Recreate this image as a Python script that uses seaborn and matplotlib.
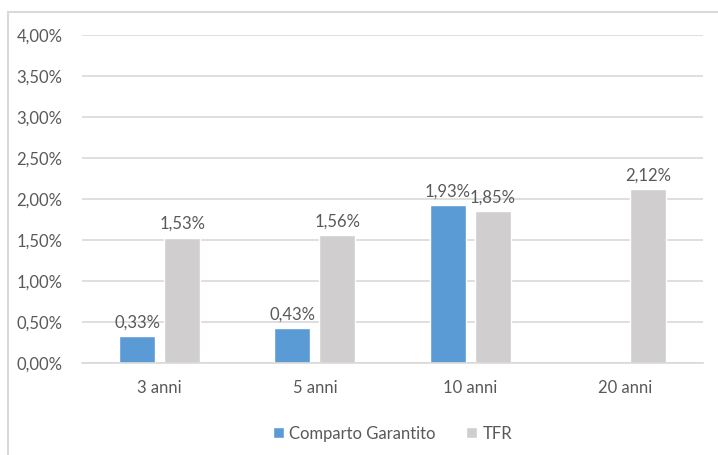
import numpy as np
import pandas as pd
import matplotlib
matplotlib.use("Agg")
import matplotlib.pyplot as plt
from matplotlib.patches import Rectangle
from matplotlib.ticker import FuncFormatter
import seaborn as sns

# Data (values in %)
categories = ["3 anni", "5 anni", "10 anni", "20 anni"]
comparto_garantito = [0.33, 0.43, 1.93, np.nan]
tfr = [1.53, 1.56, 1.85, 2.12]
series_names = ["Comparto Garantito", "TFR"]

df = pd.DataFrame({
    "periodo": categories * 2,
    "serie": [series_names[0]] * 4 + [series_names[1]] * 4,
    "valore": comparto_garantito + tfr,
})

sns.set_theme(style="white")
plt.rcParams["font.family"] = ["Lato", "DejaVu Sans"]
text_col = "#595959"
grid_col = "#D9D9D9"
fs = 12

fig = plt.figure(figsize=(7.18, 4.55), dpi=100)
ax = fig.add_axes([82 / 718, 1 - 363 / 455, 621 / 718, 328 / 455])

sns.barplot(data=df, x="periodo", y="valore", hue="serie", order=categories,
            hue_order=series_names, palette=["#5B9BD5", "#D0CECE"],
            width=0.58, gap=0.2, saturation=1, ax=ax, legend=True)

ax.set_ylim(0, 4)
ax.set_xlim(-0.5, len(categories) - 0.5)
ax.set_yticks(np.arange(0, 4.01, 0.5))
ax.yaxis.set_major_formatter(FuncFormatter(lambda v, p: f"{v:.2f}%".replace(".", ",")))
ax.grid(axis="y", color=grid_col, lw=1.2)
ax.set_axisbelow(True)
for s in ["top", "right", "left"]:
    ax.spines[s].set_visible(False)
ax.spines["bottom"].set_color(grid_col)
ax.spines["bottom"].set_linewidth(1.2)
ax.tick_params(axis="both", length=0, colors=text_col, labelsize=fs)
ax.tick_params(axis="y", pad=14)
ax.tick_params(axis="x", pad=12)
ax.set_xlabel("")
ax.set_ylabel("")

for cont in ax.containers:
    labels = ["" if np.isnan(v) else f"{v:.2f}%".replace(".", ",") for v in cont.datavalues]
    ax.bar_label(cont, labels=labels, padding=4, color=text_col, fontsize=fs)

handles, labs = ax.get_legend_handles_labels()
ax.legend(handles, labs, loc="center", bbox_to_anchor=(0.5, -0.215), ncol=2,
          frameon=False, fontsize=fs, labelcolor=text_col, handlelength=0.65,
          handleheight=0.65, handletextpad=0.35, columnspacing=1.8)

# chart border (Excel chart area, cut off on right and bottom)
fig.patches.append(Rectangle((8 / 718, -0.1), 1.2, 1 - 12 / 455 + 0.1,
                             transform=fig.transFigure, fill=False,
                             edgecolor=grid_col, lw=1.5))

fig.savefig("out.png", dpi=100)
